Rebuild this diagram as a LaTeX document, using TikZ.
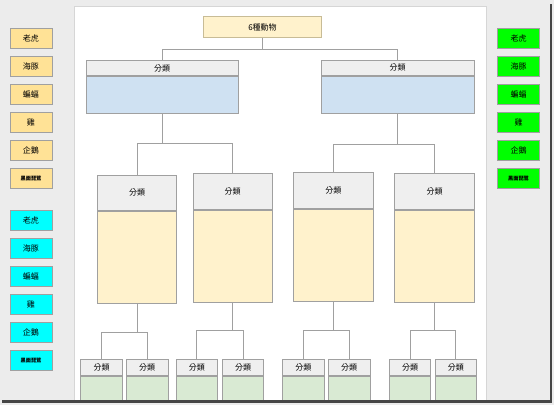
\documentclass[tikz,border=0pt]{standalone}
\usepackage{fontspec}
\usepackage{xcolor}
\usepackage{tikz}
\usetikzlibrary{positioning}
\setmainfont{Noto Sans CJK TC}
\definecolor{canvas}{RGB}{236,236,236}
\definecolor{pageline}{RGB}{214,214,214}
\definecolor{boxline}{RGB}{160,160,160}
\definecolor{orangefill}{RGB}{255,226,150}
\definecolor{cyanfill}{RGB}{0,255,255}
\definecolor{greenfill}{RGB}{0,255,0}
\definecolor{headfill}{RGB}{239,239,239}
\definecolor{bluefill}{RGB}{207,225,242}
\definecolor{creamfill}{RGB}{255,242,204}
\definecolor{sagefill}{RGB}{217,234,211}
\definecolor{rootline}{RGB}{200,188,150}
\definecolor{shadow}{RGB}{70,70,70}
\tikzset{
  wire/.style={line width=0.9pt,draw=boxline},
  tag/.style={draw=boxline,line width=0.8pt,minimum width=42pt,minimum height=20.5pt,inner sep=0pt,font=\fontsize{8}{9}\selectfont},
  tagsmall/.style={tag,font=\fontsize{5.2}{6}\selectfont\bfseries},
  root/.style={draw=rootline,line width=0.8pt,fill=creamfill,minimum width=118.4pt,minimum height=21pt,inner sep=0pt,font=\fontsize{8}{9}\selectfont},
  head/.style={draw=boxline,line width=0.8pt,fill=headfill,inner sep=0pt,font=\fontsize{8}{9}\selectfont,anchor=north},
  body/.style={draw=boxline,line width=0.8pt,inner sep=0pt,below=0pt of #1}
}
\begin{document}
\begin{tikzpicture}[x=1pt,y=-1pt,node distance=6.7pt]
  \fill[canvas] (0,0) rectangle (554,405);
  \useasboundingbox (0,0) rectangle (554,405);
  \begin{scope}
  \clip (0,0) rectangle (554,400);
  \draw[pageline,fill=white,line width=0.8pt] (74,6) rectangle (486,404);
  % colour tags, left and right
  \node[tag,fill=orangefill] (o1) at (31,38.3) {老虎};
  \node[tag,fill=orangefill,below=of o1] (o2) {海豚};
  \node[tag,fill=orangefill,below=of o2] (o3) {蝙蝠};
  \node[tag,fill=orangefill,below=of o3] (o4) {雞};
  \node[tag,fill=orangefill,below=of o4] (o5) {企鵝};
  \node[tagsmall,fill=orangefill,below=of o5] (o6) {黑面琵鷺};
  \node[tag,fill=cyanfill] (c1) at (31,220.3) {老虎};
  \node[tag,fill=cyanfill,below=of c1] (c2) {海豚};
  \node[tag,fill=cyanfill,below=of c2] (c3) {蝙蝠};
  \node[tag,fill=cyanfill,below=of c3] (c4) {雞};
  \node[tag,fill=cyanfill,below=of c4] (c5) {企鵝};
  \node[tagsmall,fill=cyanfill,below=of c5] (c6) {黑面琵鷺};
  \node[tag,fill=greenfill] (g1) at (518.5,38.3) {老虎};
  \node[tag,fill=greenfill,below=of g1] (g2) {海豚};
  \node[tag,fill=greenfill,below=of g2] (g3) {蝙蝠};
  \node[tag,fill=greenfill,below=of g3] (g4) {雞};
  \node[tag,fill=greenfill,below=of g4] (g5) {企鵝};
  \node[tagsmall,fill=greenfill,below=of g5] (g6) {黑面琵鷺};
  % tree
  \node[root] (animals) at (262.5,27.2) {6種動物};
  \node[head,minimum width=152.5pt,minimum height=15pt] (kA) at (162.2,60.3) {分類};
  \node[body=kA,fill=bluefill,minimum width=152.5pt,minimum height=37pt] (kAb) {};
  \node[head,minimum width=152.5pt,minimum height=15pt] (kB) at (397.7,60) {分類};
  \node[body=kB,fill=bluefill,minimum width=152.5pt,minimum height=37pt] (kBb) {};
  \draw[wire] (animals.south) -- ++(0,11.6) -| (kA.north);
  \draw[wire] (animals.south) -- ++(0,11.6) -| (kB.north);
  \node[head,minimum width=79.3pt,minimum height=35.5pt] (kA1) at (137,174.7) {分類};
  \node[body=kA1,fill=creamfill,minimum width=79.3pt,minimum height=92pt] (kA1b) {};
  \node[head,minimum width=79.3pt,minimum height=35.5pt] (kA2) at (232.7,173.3) {分類};
  \node[body=kA2,fill=creamfill,minimum width=79.3pt,minimum height=92pt] (kA2b) {};
  \node[head,minimum width=79.3pt,minimum height=35.5pt] (kB1) at (333.3,172.3) {分類};
  \node[body=kB1,fill=creamfill,minimum width=79.3pt,minimum height=92pt] (kB1b) {};
  \node[head,minimum width=79.3pt,minimum height=35.5pt] (kB2) at (434.5,173.3) {分類};
  \node[body=kB2,fill=creamfill,minimum width=79.3pt,minimum height=92pt] (kB2b) {};
  \draw[wire] (kAb.south) -- ++(0,30) -| (kA1.north);
  \draw[wire] (kAb.south) -- ++(0,30) -| (kA2.north);
  \draw[wire] (kBb.south) -- ++(0,30.6) -| (kB1.north);
  \draw[wire] (kBb.south) -- ++(0,30.6) -| (kB2.north);
  \node[head,minimum width=41.5pt,minimum height=15.7pt] (kA1x) at (101.5,359) {分類};
  \node[body=kA1x,fill=sagefill,minimum width=41.5pt,minimum height=40pt] (kA1xb) {};
  \node[head,minimum width=41.5pt,minimum height=15.7pt] (kA1y) at (147.2,359) {分類};
  \node[body=kA1y,fill=sagefill,minimum width=41.5pt,minimum height=40pt] (kA1yb) {};
  \node[head,minimum width=41.5pt,minimum height=15.7pt] (kA2x) at (196.8,359) {分類};
  \node[body=kA2x,fill=sagefill,minimum width=41.5pt,minimum height=40pt] (kA2xb) {};
  \node[head,minimum width=41.5pt,minimum height=15.7pt] (kA2y) at (243,359) {分類};
  \node[body=kA2y,fill=sagefill,minimum width=41.5pt,minimum height=40pt] (kA2yb) {};
  \node[head,minimum width=41.5pt,minimum height=15.7pt] (kB1x) at (303.3,359) {分類};
  \node[body=kB1x,fill=sagefill,minimum width=41.5pt,minimum height=40pt] (kB1xb) {};
  \node[head,minimum width=41.5pt,minimum height=15.7pt] (kB1y) at (349.2,359) {分類};
  \node[body=kB1y,fill=sagefill,minimum width=41.5pt,minimum height=40pt] (kB1yb) {};
  \node[head,minimum width=41.5pt,minimum height=15.7pt] (kB2x) at (410,359) {分類};
  \node[body=kB2x,fill=sagefill,minimum width=41.5pt,minimum height=40pt] (kB2xb) {};
  \node[head,minimum width=41.5pt,minimum height=15.7pt] (kB2y) at (455.8,359) {分類};
  \node[body=kB2y,fill=sagefill,minimum width=41.5pt,minimum height=40pt] (kB2yb) {};
  \draw[wire] (kA1b.south) -- ++(0,28.3) -| (kA1x.north);
  \draw[wire] (kA1b.south) -- ++(0,28.3) -| (kA1y.north);
  \draw[wire] (kA2b.south) -- ++(0,28.3) -| (kA2x.north);
  \draw[wire] (kA2b.south) -- ++(0,28.3) -| (kA2y.north);
  \draw[wire] (kB1b.south) -- ++(0,29.3) -| (kB1x.north);
  \draw[wire] (kB1b.south) -- ++(0,29.3) -| (kB1y.north);
  \draw[wire] (kB2b.south) -- ++(0,28.3) -| (kB2x.north);
  \draw[wire] (kB2b.south) -- ++(0,28.3) -| (kB2y.north);
  \end{scope}
  % window shadow
  \fill[shadow] (2,400) rectangle (552,403);
  \fill[shadow] (549.5,4) rectangle (552,403);
\end{tikzpicture}
\end{document}
